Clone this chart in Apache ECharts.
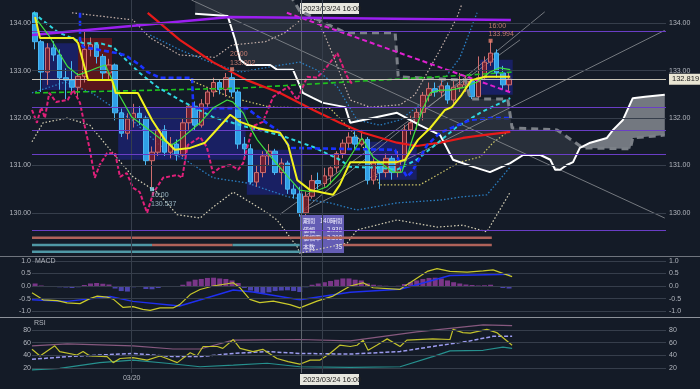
<!DOCTYPE html>
<html><head><meta charset="utf-8">
<script src="https://cdn.jsdelivr.net/npm/echarts/dist/echarts.min.js"></script>
<style>html,body{margin:0;padding:0;background:#141b27;}#c{width:700px;height:389px;}</style>
</head><body><div id="c"></div>
<script>
const SLOTS = 103;
const slots = Array.from({length: SLOTS}, (_, k) => String(k));

const opens = [134.22,133.61,132.97,133.48,133.33,132.85,132.80,132.65,132.88,133.45,
133.55,133.30,132.95,133.12,132.11,131.68,131.98,132.10,132.00,131.10,
131.28,131.75,131.28,131.45,131.22,131.90,132.25,131.85,132.30,132.55,
132.75,132.60,132.85,132.55,131.45,131.35,130.65,130.85,131.20,131.30,
130.85,131.05,130.50,130.40,130.00,130.35,130.68,130.62,130.78,130.95,
131.25,131.47,131.60,131.45,131.55,130.69,131.05,130.85,131.15,130.85,
131.10,131.75,131.90,132.12,132.48,132.62,132.55,132.68,132.38,132.65,
132.70,132.78,132.45,132.85,133.18,133.37,132.95,132.70];
const highs = [134.25,133.65,133.58,133.62,133.45,133.05,133.20,132.95,133.83,133.70,
133.60,133.35,133.25,133.15,132.20,132.10,132.30,132.25,132.05,131.40,
131.80,131.85,131.60,131.55,131.98,132.30,132.35,132.40,132.65,132.85,
132.80,132.95,133.00,132.60,131.60,131.45,131.00,131.30,131.45,131.35,
131.15,131.10,130.60,130.55,130.45,130.80,130.85,130.95,130.98,131.30,
131.55,131.70,131.72,131.75,131.60,131.15,131.10,131.25,131.20,131.30,
131.85,132.05,132.20,132.55,132.75,132.75,132.80,132.75,132.80,132.95,
132.90,132.85,133.30,133.30,133.63,133.45,133.10,132.95];
const lows = [133.45,132.55,132.70,133.20,132.60,132.40,132.55,132.45,132.75,133.30,
133.15,132.80,132.80,131.95,131.60,131.55,131.80,131.85,131.00,130.54,
131.20,131.20,131.15,131.10,131.18,131.75,131.75,131.80,132.20,132.45,
132.50,132.45,132.45,131.35,131.20,130.60,130.55,130.75,131.00,130.80,
130.60,130.40,130.30,129.92,129.95,130.30,130.50,130.55,130.60,130.85,
131.15,131.35,131.35,131.40,130.60,130.60,130.50,130.75,130.70,130.75,
131.00,131.65,131.75,131.95,132.35,132.45,132.45,132.30,132.30,132.55,
132.55,132.40,132.40,132.80,133.10,132.85,132.60,132.55];
const closes = [133.61,132.97,133.48,133.33,132.85,132.80,132.65,132.88,133.45,133.55,
133.30,132.95,133.12,132.11,131.68,131.98,132.10,132.00,131.10,131.28,
131.75,131.28,131.45,131.22,131.90,132.25,131.85,132.30,132.55,132.75,
132.60,132.85,132.55,131.45,131.35,130.65,130.85,131.20,131.30,130.85,
131.05,130.50,130.40,130.00,130.35,130.68,130.62,130.78,130.95,131.25,
131.47,131.60,131.45,131.55,130.69,131.05,130.85,131.15,130.85,131.10,
131.75,131.90,132.12,132.48,132.62,132.55,132.68,132.38,132.65,132.70,
132.78,132.45,132.85,133.18,133.37,132.95,132.70,132.82];

const tenkan = [[0,134.13],[0.8,133.69],[6.2,133.69],[7.0,133.58],[8.6,132.80],[12.5,132.80],[13.1,132.53],[16.7,132.53],[19.0,131.96],[21.1,131.54],[22.7,131.33],[25.2,131.37],[27.6,131.48],[29.2,131.71],[31.7,132.07],[33.3,131.92],[36.1,131.79],[39.8,131.69],[41.1,131.43],[42.6,130.69],[44.7,130.48],[48.4,130.38],[49.5,130.59],[51.2,131.07],[58.8,131.07],[60.1,131.12],[62.2,131.54],[64.2,131.79],[66.6,132.17],[67.7,132.23],[69.3,132.49],[70.9,132.80],[73.1,132.87],[77.2,132.87]];
const shortMA = [[0.3,134.07],[2.4,133.71],[3.6,133.44],[5.3,133.08],[7.0,132.91],[8.4,132.97],[10.1,133.06],[11.4,133.12],[13.5,132.53],[15.7,132.02],[17.9,131.81],[20.6,131.54],[22.2,131.43],[23.5,131.54],[26.8,131.90],[28.9,132.21],[31.2,132.38],[32.1,132.34],[33.8,132.11],[34.9,131.81],[36.1,131.54],[38.7,131.12],[41.1,130.76],[43.0,130.48],[45.2,130.44],[47.4,130.55],[49.5,130.84],[53.1,131.58],[54.9,131.18],[58.1,130.86],[59.6,130.86],[61.4,131.60],[62.9,132.17],[64.2,132.53],[65.8,132.59],[67.4,132.59],[69.5,132.64],[71.8,132.76],[73.9,132.97],[75.5,133.06],[77.2,133.02]];
const kijun = [[7.3,134.22],[7.3,133.65],[7.8,133.50],[13.3,133.37],[14.6,133.33],[17.0,133.12],[18.3,132.97],[20.3,132.85],[25.5,132.85],[25.7,132.21],[34.4,132.21],[36.9,131.96],[39.3,131.75],[40.6,131.54],[41.4,131.37],[58.5,131.33],[59.3,131.01],[60.4,130.76],[61.2,130.86],[63.7,131.43],[65.8,131.69],[70.7,131.96],[73.9,132.00],[77.5,132.00]];
const midMA = [[-0.3,134.22],[3.6,133.82],[7.8,133.58],[10.5,133.58],[12.7,133.50],[14.3,133.29],[17.0,132.95],[19.8,132.66],[23.5,132.38],[28.9,132.02],[34.4,131.81],[39.8,131.64],[45.2,131.39],[49.5,131.12],[51.2,130.97],[56.0,130.95],[58.8,130.91],[62.0,131.12],[64.6,131.39],[68.5,131.81],[72.3,132.11],[77.2,132.42]];
const longMA = [[18.3,134.22],[23.5,133.65],[28.9,133.18],[34.4,132.80],[39.8,132.53],[45.2,132.17],[49.5,131.90],[53.3,131.69],[58.8,131.48],[62.0,131.41],[65.8,131.48],[69.5,131.58],[72.8,131.64],[77.2,131.71]];
const veryLongMA = [[0,132.53],[33.3,132.63],[47.9,132.74],[70.7,132.91],[77.5,132.97]];
const trendDown = [[40.9,134.22],[77.5,132.53]];
const trendTop = [[-0.5,133.75],[31.7,134.13],[77.3,134.07]];
const chikou = [[-0.5,132.17],[0.3,131.90],[1.0,132.23],[1.6,132.00],[2.3,132.53],[3.4,132.34],[5.3,132.38],[6.2,132.59],[7.3,132.32],[8.1,131.81],[8.9,131.33],[9.7,130.74],[10.5,131.01],[11.7,131.26],[13.0,131.26],[13.8,130.76],[14.9,130.84],[15.9,130.53],[17.0,130.44],[18.2,130.00],[19.2,130.42],[20.8,130.74],[23.1,130.80],[23.9,130.74],[24.8,131.43],[26.8,131.60],[27.9,131.39],[28.9,130.84],[30.0,130.95],[31.7,131.01],[33.0,130.91],[33.8,131.05],[35.4,131.83],[37.0,131.92],[38.7,132.45],[41.1,132.66],[42.6,132.38],[44.2,132.87],[45.8,132.85],[47.4,133.08],[49.1,133.37],[50.7,132.87],[51.6,132.70]];
const spanA = [[26.0,134.20],[31.3,134.15],[32.5,133.65],[33.3,133.23],[34.4,133.12],[38.2,133.12],[39.3,133.02],[41.9,133.02],[43.5,132.53],[45.2,132.42],[46.8,132.32],[50.4,132.23],[51.2,131.90],[53.3,131.96],[58.8,132.11],[62.5,131.85],[65.8,131.64],[67.9,131.12],[71.2,130.97],[73.9,130.86],[77.2,131.05],[79.3,131.22],[82.1,131.22],[83.7,131.12],[84.5,130.91],[85.3,130.91],[86.4,131.01],[87.4,131.07],[88.5,131.37],[90.2,131.48],[92.9,131.58],[93.9,131.75],[95.5,131.96],[97.1,132.42],[99.1,132.45],[102.3,132.49]];
const spanB = [[26.0,134.91],[41.4,134.60],[43.0,134.26],[50.4,133.80],[58.5,133.80],[59.0,132.87],[69.9,132.80],[70.7,132.40],[76.8,132.40],[77.5,131.79],[84.8,131.75],[89.0,131.37],[96.7,131.35],[97.1,131.58],[102.3,131.64]];
const bandUpper2 = [[6.0,134.22],[15.9,134.07],[18.7,133.69],[23.5,133.33],[29.2,133.28],[32.0,133.54],[37.4,133.61],[40.6,133.80],[43.5,134.11],[46.0,134.07],[48.4,133.33],[51.2,132.38],[54.4,132.23],[59.3,132.28],[61.7,132.49],[65.8,133.44],[68.5,134.11],[69.3,134.39]];
const bandLower2 = [[-0.5,131.50],[1.3,131.90],[5.2,132.00],[8.9,131.85],[12.2,131.33],[15.9,130.76],[19.8,130.44],[23.1,129.96],[26.8,129.89],[28.9,130.12],[32.2,130.44],[37.0,130.06],[39.3,129.85],[42.6,129.28],[43.0,129.15],[50.7,129.36],[52.3,129.64],[58.8,129.85],[65.3,129.70],[69.5,129.74],[73.4,129.60],[77.2,130.44]];
const bandUpper1 = [[18.7,133.75],[23.5,133.44],[28.4,133.18],[33.3,132.97],[38.2,133.08],[43.0,133.18],[45.8,133.01],[49.1,132.66],[52.3,131.96],[56.0,131.85],[59.3,131.96],[62.5,132.28],[65.8,132.70],[69.0,133.27],[71.8,134.22]];
const bandLower1 = [[-0.5,132.53],[4.9,132.76],[9.2,132.53],[15.7,131.96],[21.1,131.33],[24.4,131.12],[28.9,130.74],[34.4,130.63],[41.1,130.34],[47.9,130.21],[52.3,130.06],[58.8,130.21],[65.8,130.27],[69.5,130.34],[73.4,130.38],[77.2,130.97]];
const bandMid = [[25.2,132.80],[31.7,132.44],[38.2,132.23],[47.9,132.21],[52.8,131.54],[56.0,130.59],[62.5,130.59],[69.0,131.07],[72.3,131.18],[74.4,131.48],[77.2,131.75]];
const fanLines = [
  [[25.4,134.49],[102.3,129.89]],
  [[43.0,130.00],[82.8,134.24]],
  [[43.0,130.00],[102.3,133.85]],
  [[39.8,129.97],[78.8,133.65]]
];
const fibLevels = [133.826, 132.228, 131.735, 131.241, 129.643];
const fibTexts = [[8.0,133.826,'0%'],[8.6,132.228,'38.2%'],[7.8,131.735,'50%'],[8.4,131.241,'61.8%'],[8.6,129.643,'100%'],[69.2,133.826,'133.826'],[69.4,129.643,'129.643'],[69.5,131.735,'131.735'],[69.2,131.241,'131.241']];
const lastPrice = 132.819;
const blueBoxes = [[1.1,133.58,7.0,132.59],[13.5,132.23,34.2,131.12],[34.4,131.33,43.5,130.38],[54.0,131.50,62.0,130.70],[72.3,133.23,77.6,132.49]];
const redBoxes = [[7.0,133.69,12.5,132.59]];
const salmonSegs = [[-0.5,74.2,129.477],[19.0,32.1,129.323],[50.0,74.2,129.323]];
const tealSegs = [[-0.5,19.0,129.323],[32.1,43.0,129.323],[-0.5,43.0,129.181]];
const salmonTexts = [[15.7,129.477,'65'],[53.1,129.477,'43'],[25.5,129.323,'14'],[58.5,129.323,'32']];
const tealTexts = [[8.9,129.323,'52'],[37.4,129.323,'12'],[8.9,129.181,'64'],[30.9,129.181,'25']];
const peakMarks = [[32,133.03,'20:00\n133.002'],[74,133.63,'16:00\n133.994']];
const troughMarks = [[19,130.50,'16:00\n130.537']];
const dayLines = [15.7, 46.7];
const crossIdx = 43.3;
const crossLabel = '2023/03/24 16:00';
const dayLabel = '03/20';
const infoRows = [['期間','140時間'],['値幅','-2.930'],['値幅率','-2.208'],['本数','35']];

const macdHist = [0.10,0.02,0.00,-0.02,-0.05,-0.06,-0.08,-0.05,0.04,0.10,
0.12,0.09,0.06,-0.10,-0.20,-0.22,-0.05,-0.04,-0.12,-0.13,
-0.08,-0.03,-0.03,-0.02,0.05,0.18,0.25,0.28,0.32,0.33,
0.30,0.28,0.22,0.12,-0.08,-0.18,-0.25,-0.28,-0.25,-0.20,
-0.18,-0.17,-0.20,-0.24,-0.05,0.05,0.10,0.15,0.20,0.25,
0.30,0.30,0.25,0.22,0.10,0.05,0.02,0.01,0.00,0.01,
0.08,0.15,0.22,0.28,0.32,0.33,0.30,0.22,0.15,0.10,
0.06,0.04,0.02,0.03,0.05,-0.02,-0.08,-0.10];
const macdLine = [[-0.5,-0.27],[1.3,-0.55],[3.6,-0.58],[5.2,-0.67],[7.3,-0.70],[8.9,-0.50],[10.1,-0.40],[11.7,-0.44],[12.7,-0.52],[14.3,-0.85],[15.9,-0.82],[17.5,-0.93],[18.7,-0.97],[20.3,-0.87],[22.4,-0.87],[23.5,-0.74],[25.2,-0.34],[26.8,-0.14],[28.9,0.00],[31.2,0.09],[32.2,0.13],[33.3,-0.07],[34.9,-0.53],[36.5,-0.66],[38.7,-0.60],[41.4,-0.74],[43.0,-0.87],[45.8,-0.60],[48.4,-0.40],[51.2,0.00],[53.3,0.13],[54.9,-0.07],[59.3,-0.13],[60.4,0.05],[63.7,0.58],[65.3,0.69],[67.4,0.58],[70.2,0.55],[72.8,0.60],[74.4,0.64],[76.0,0.50],[77.5,0.37]];
const macdSignal = [[-0.5,-0.55],[5.2,-0.61],[12.2,-0.42],[15.9,-0.61],[23.5,-0.79],[32.2,-0.16],[35.4,-0.24],[43.0,-0.55],[51.2,-0.25],[59.3,-0.13],[62.0,0.05],[67.4,0.42],[77.2,0.47]];

const rsiLine = [[-0.5,49.5],[0.8,39],[3.2,55],[4.0,46],[6.8,40.5],[7.8,46],[8.9,39],[11.7,38],[12.7,28.5],[13.8,35],[15.9,36.5],[18.2,32.5],[20.3,39],[21.4,35],[23.1,28.5],[25.2,44],[26.3,39],[27.3,54],[29.6,54],[30.5,51],[32.2,65],[33.3,51],[35.4,46],[37.0,49.5],[39.3,35],[41.1,30],[43.0,26],[44.7,32.5],[46.3,32.5],[47.9,43],[49.5,56],[51.2,54],[52.3,56],[53.3,64],[54.1,48],[55.5,56],[57.2,66],[59.3,54],[60.4,64],[64.6,66],[67.4,65],[67.9,81],[69.5,76],[70.7,75],[73.4,81],[75.0,76],[77.5,56]];
const rsiAvg = [[-0.5,33.7],[5.2,38],[10.5,40.5],[15.9,43],[22.4,38],[26.8,38],[32.2,43],[37.7,46],[43.0,43],[51.2,42],[59.3,46],[64.6,54],[70.2,62],[74.4,70],[77.5,70]];
const rsiUpper = [[-0.5,55],[5.2,58],[15.9,55],[22.4,50],[26.8,50],[32.2,64],[43.0,65],[51.2,63],[62.0,77],[72.8,88],[77.5,87]];
const rsiLower = [[-0.5,17],[4.0,19.5],[10.5,28.5],[15.9,32.5],[21.4,27.5],[26.8,22],[32.2,24.5],[37.7,27.5],[43.0,22],[51.2,21],[59.3,22],[64.6,38],[67.4,47],[72.8,48],[76.0,53],[77.5,51]];

const priceTicks = [130, 131, 132, 133, 134];
const macdTicks = [-1, -0.5, 0, 0.5, 1];
const rsiTicks = [20, 40, 60, 80];

const FONT = 'Liberation Sans';
const CJK = "'Noto Sans CJK JP', sans-serif";
const LBL = '#b2b6be';
const GRIDC = '#363e4b';

const grids = [
  {left:32, top:0, width:634, height:256},
  {left:32, top:257, width:634, height:60},
  {left:32, top:318, width:634, height:55}
];
const xAxes = [];
grids.forEach((g, k) => {
  xAxes.push({type:'category', gridIndex:k, data:slots, boundaryGap:true, show:false});
  xAxes.push({type:'value', gridIndex:k, min:-0.5, max:SLOTS-0.5, show:false});
});
function yAx(k, pos, min, max, ticks, dec) {
  return {type:'value', gridIndex:k, position:pos, min, max, scale:true,
    splitLine:{show:false}, axisLine:{show:false}, axisTick:{show:false},
    axisLabel:{color:LBL, fontSize:7, fontFamily:FONT, margin: pos==='left'?1:3,
      formatter: v => ticks.some(t => Math.abs(t - v) < 1e-6) ? v.toFixed(dec) : ''}};
}
const yAxes = [
  yAx(0,'left',129.09,134.49,priceTicks,2), yAx(0,'right',129.09,134.49,priceTicks,2),
  yAx(1,'left',-1.23,1.151,macdTicks,1), yAx(1,'right',-1.23,1.151,macdTicks,1),
  yAx(2,'left',12.1,99.0,rsiTicks,0), yAx(2,'right',12.1,99.0,rsiTicks,0)
];

function ln(data, color, width, type, z, xi, yi) {
  return {type:'line', xAxisIndex: xi === undefined ? 1 : xi, yAxisIndex: yi === undefined ? 0 : yi,
    data, symbol:'none', showSymbol:false, silent:true, z,
    lineStyle:{color, width, type: type || 'solid'}};
}
function guide(xi, yi, ticks, z) {
  return {type:'line', xAxisIndex:xi, yAxisIndex:yi, data:[], silent:true, z: z || 0,
    markLine:{silent:true, symbol:['none','none'], animation:false, label:{show:false},
      lineStyle:{color:GRIDC, width:1, type:'solid'},
      data: ticks.map(v => ({yAxis:v})).concat(dayLines.map(v => ({xAxis:v})))
        .concat([{xAxis:crossIdx, lineStyle:{color:'#5d636c'}}])}};
}
function textSeries(items, color, extra) {
  return Object.assign({type:'scatter', xAxisIndex:1, yAxisIndex:0, silent:true, z:8,
    symbolSize:1, itemStyle:{opacity:0},
    data: items.map(t => ({value:[t[0], t[1]], name:t[2]})),
    label:{show:true, position:'top', distance:1, formatter: p => p.name, color, fontSize:7, fontFamily:FONT}}, extra || {});
}

const series = [];
series.push(guide(1, 0, priceTicks, 0));
series.push(guide(3, 2, macdTicks, 0));
const rsiGuide = guide(5, 4, rsiTicks, 0);
rsiGuide.markLine.data.push({xAxis:dayLines[0], lineStyle:{color:GRIDC}, label:{show:true, position:'start', distance:2, formatter:dayLabel, color:LBL, fontSize:7, fontFamily:FONT}});
series.push(rsiGuide);

series.push({type:'line', xAxisIndex:1, yAxisIndex:0, data:[], silent:true, z:1,
  markArea:{silent:true, data:
    blueBoxes.map(b => [{coord:[b[0],b[1]], itemStyle:{color:'rgba(30,38,160,0.5)'}},{coord:[b[2],b[3]]}])
    .concat(redBoxes.map(b => [{coord:[b[0],b[1]], itemStyle:{color:'rgba(115,22,26,0.75)'}},{coord:[b[2],b[3]]}]))}});

series.push({type:'line', xAxisIndex:1, yAxisIndex:0, data:[], silent:true, z:2,
  markLine:{silent:true, symbol:['none','none'], label:{show:false},
    lineStyle:{color:'#6a3ec6', width:1, type:'solid'},
    data: fibLevels.map(v => ({yAxis:v})).concat([{yAxis:lastPrice,
      lineStyle:{color:'#c9c5b8', width:1},
      label:{show:true, position:'end', distance:3, formatter: String(lastPrice), color:'#1a1a1a',
        backgroundColor:'#e9e5d3', padding:[2,3,1,3], fontSize:7.5, fontFamily:FONT}}])}});

series.push({type:'custom', xAxisIndex:1, yAxisIndex:0, data:[[0,131]], silent:true, z:1,
  renderItem: (params, api) => {
    const outer = spanA.map(p => api.coord(p)).concat(spanB.slice().reverse().map(p => api.coord(p)));
    const la = spanA.filter(p => p[0] >= 88.4).map(p => api.coord(p));
    const lb = spanB.filter(p => p[0] >= 88.9).reverse().map(p => api.coord(p));
    return {type:'group', children:[
      {type:'polygon', shape:{points:outer}, style:{fill:'rgba(140,146,156,0.17)'}},
      {type:'polygon', shape:{points:la.concat(lb)}, style:{fill:'rgba(128,133,141,0.85)'}}
    ]};
  }});

series.push(ln(bandUpper2, '#c9b4ac', 1.2, [1.5,2], 2));
series.push(ln(bandLower2, '#d8d2b8', 1.2, [1.5,2], 2));
series.push(ln(bandMid, '#cfc76a', 1.2, [1.5,2], 2));
series.push(ln(bandUpper1, '#2a7fc4', 1.3, [1.5,2], 2));
series.push(ln(bandLower1, '#2a7fc4', 1.3, [1.5,2], 2));
fanLines.forEach(f => series.push(ln(f, '#8d9096', 0.8, 'solid', 2)));

series.push({type:'candlestick', xAxisIndex:0, yAxisIndex:0, z:3, silent:true, barWidth:5,
  data: opens.map((o, k) => [o, closes[k], lows[k], highs[k]]),
  itemStyle:{color:'rgba(128,30,40,0.8)', color0:'#2f9fe6', borderColor:'#cf6e6e', borderColor0:'#4cb7f2', borderWidth:1}});

series.push(ln(spanB, '#7b8087', 3, [7,5], 4));
series.push(ln(spanA, '#ffffff', 2, 'solid', 4));
series.push(ln(veryLongMA, '#1fc21f', 1.6, [5,3], 4));
series.push(ln(longMA, '#e81a1a', 2.2, 'solid', 4));
series.push(ln(midMA, '#2fd6e0', 2, [4,3], 4));
series.push(ln(kijun, '#1a32ff', 2.6, [5,3], 4));
series.push(ln(trendDown, '#e020d0', 2, [5,3], 4));
series.push(ln(trendTop, '#9b1ff0', 2.5, 'solid', 4));
series.push(ln(chikou, '#e0207a', 2, [4,2], 4));
series.push(ln(shortMA, '#3fe03f', 1.2, 'solid', 5));
series.push(ln(tenkan, '#f2f21e', 2, 'solid', 5));

salmonSegs.forEach(s => series.push(ln([[s[0],s[2]],[s[1],s[2]]], '#b0625a', 2.5, 'solid', 3)));
tealSegs.forEach(s => series.push(ln([[s[0],s[2]],[s[1],s[2]]], '#4f98a5', 2.5, 'solid', 3)));
series.push(textSeries(salmonTexts, '#c8847a'));
series.push(textSeries(tealTexts, '#8abcc4'));
series.push(textSeries(fibTexts, '#9a6ae0'));

series.push({type:'scatter', xAxisIndex:1, yAxisIndex:0, silent:true, z:9, symbol:'rect', symbolSize:4,
  itemStyle:{color:'#e8806e'}, data: peakMarks.map(t => ({value:[t[0],t[1]], name:t[2]})),
  label:{show:true, position:[0,-17], formatter:p => p.name, color:'#e8907e', fontSize:7, lineHeight:8.5, fontFamily:FONT, align:'left'}});
series.push({type:'scatter', xAxisIndex:1, yAxisIndex:0, silent:true, z:9, symbol:'rect', symbolSize:4,
  itemStyle:{color:'#8fe0f0'}, data: troughMarks.map(t => ({value:[t[0],t[1]], name:t[2]})),
  label:{show:true, position:[1,4], formatter:p => p.name, color:'#b6d6e2', fontSize:7, lineHeight:8.5, fontFamily:FONT, align:'left'}});

series.push({type:'bar', xAxisIndex:2, yAxisIndex:2, silent:true, z:2, barWidth:5,
  data: macdHist.map(v => ({value:v, itemStyle:{color: v >= 0 ? '#7a3688' : '#4b44ad'}}))});
series.push(ln(macdSignal, '#1f2ff0', 1.5, 'solid', 3, 3, 2));
series.push(ln(macdLine, '#c9c92a', 1.2, 'solid', 4, 3, 2));

series.push(ln(rsiUpper, '#87597f', 1.2, 'solid', 3, 5, 4));
series.push(ln(rsiLower, '#26908e', 1.2, 'solid', 3, 5, 4));
series.push(ln(rsiAvg, '#9c9cf0', 1.5, [4,2], 3, 5, 4));
series.push(ln(rsiLine, '#c2c22c', 1.2, 'solid', 4, 5, 4));

const txt = (t, x, y) => ({type:'text', x, y, silent:true, z:50,
  style:{text:t, fill:LBL, fontSize:7, fontFamily:FONT, verticalAlign:'middle'}});
const infoChildren = [{type:'rect', shape:{x:0, y:0, width:44, height:38}, style:{fill:'rgba(112,102,200,0.88)'}}];
infoRows.forEach((r, k) => {
  infoChildren.push({type:'text', x:3, y:5.5 + k*8.8, style:{text:r[0], fill:'#f2f0ff', fontSize:6, fontFamily:CJK, verticalAlign:'middle'}});
  infoChildren.push({type:'text', x:42, y:5.5 + k*8.8, style:{text:r[1], fill:'#f2f0ff', fontSize:6, fontFamily:CJK, align:'right', verticalAlign:'middle'}});
});

const option = {
  backgroundColor:'#141b27',
  animation:false,
  grid: grids, xAxis: xAxes, yAxis: yAxes, series,
  graphic: [
    {type:'line', silent:true, z:50, shape:{x1:0, y1:256.5, x2:700, y2:256.5}, style:{stroke:'#6f747d', lineWidth:1}},
    {type:'line', silent:true, z:50, shape:{x1:0, y1:317.5, x2:700, y2:317.5}, style:{stroke:'#8d929a', lineWidth:1}},
    txt('MACD', 35, 261),
    txt('RSI', 34, 323),
    {type:'group', x:300, y:3, z:60, silent:true, children:[
      {type:'rect', shape:{x:0, y:0, width:59, height:11}, style:{fill:'#e7e7df'}},
      {type:'text', x:3, y:5.5, style:{text:crossLabel, fill:'#222', fontSize:7.5, fontFamily:FONT, verticalAlign:'middle'}}]},
    {type:'group', x:300, y:374, z:60, silent:true, children:[
      {type:'rect', shape:{x:0, y:0, width:59, height:11}, style:{fill:'#e7e7df'}},
      {type:'text', x:3, y:5.5, style:{text:crossLabel, fill:'#222', fontSize:7.5, fontFamily:FONT, verticalAlign:'middle'}}]},
    {type:'group', x:300, y:215, z:60, silent:true, children: infoChildren}
  ]
};
const chart = echarts.init(document.getElementById('c'));
chart.setOption(option);
</script></body></html>
